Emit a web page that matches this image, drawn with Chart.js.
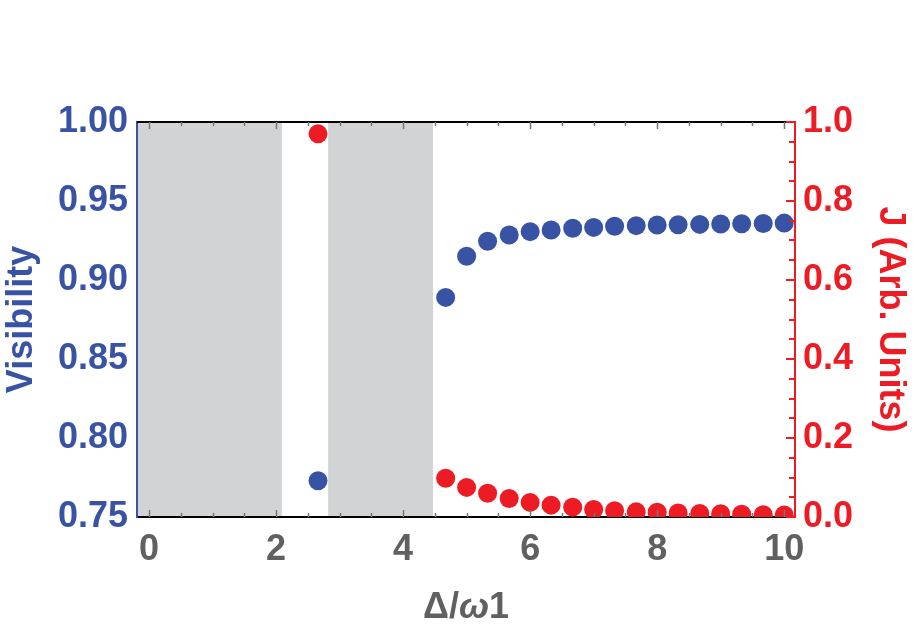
<!DOCTYPE html>
<html lang="en">
<head>
  <meta charset="UTF-8">
  <title>Visibility and J vs detuning</title>
  <script src="https://cdn.jsdelivr.net/npm/chart.js"></script>
  <style>
    body { margin: 0; background: #ffffff; }
    #wrap { width: 923px; height: 641px; }
  </style>
</head>
<body>

<div id="wrap">
  <canvas id="visChart" width="923" height="641"></canvas>
</div>

<script>
  // data
  const detuning = [2.66, 4.67, 5.0, 5.33, 5.67, 6.0, 6.33, 6.67, 7.0, 7.33, 7.67, 8.0, 8.33, 8.67, 9.0, 9.33, 9.67, 10.0];
  const visibility = [0.773, 0.889, 0.915, 0.9245, 0.9285, 0.9306, 0.9316, 0.9327, 0.9333, 0.934, 0.9344, 0.9348, 0.935, 0.9352, 0.9354, 0.9356, 0.9358, 0.936];
  const jValues = [0.970, 0.098, 0.075, 0.060, 0.047, 0.037, 0.030, 0.025, 0.019, 0.016, 0.013, 0.012, 0.010, 0.009, 0.008, 0.007, 0.006, 0.005];

  // shaded detuning ranges
  const bandStarts = [-0.19, 2.82];
  const bandEnds = [2.09, 4.47];

  // tick labels
  const xTicks = [0, 2, 4, 6, 8, 10];
  const visTicks = [0.75, 0.80, 0.85, 0.90, 0.95, 1.00];
  const jTicks = [0.0, 0.2, 0.4, 0.6, 0.8, 1.0];

  const BLUE = '#3953A4';
  const RED = '#ED1C24';
  const GREY_TXT = '#606060';
  const FONT = "'Liberation Sans', Arial, sans-serif";

  const bandPlugin = {
    id: 'bands',
    beforeDraw(chart) {
      const { ctx, chartArea, scales } = chart;
      ctx.save();
      ctx.fillStyle = '#D1D3D4';
      for (let i = 0; i < bandStarts.length; i++) {
        const x0 = Math.max(scales.x.getPixelForValue(bandStarts[i]), chartArea.left);
        const x1 = scales.x.getPixelForValue(bandEnds[i]);
        ctx.fillRect(x0, chartArea.top, x1 - x0, chartArea.bottom - chartArea.top);
      }
      ctx.restore();
    }
  };

  // top frame line, small inward ticks, and the x title with italic omega
  const framePlugin = {
    id: 'frame',
    afterDraw(chart) {
      const { ctx, chartArea, scales } = chart;
      const { left, right, top, bottom } = chartArea;
      ctx.save();

      ctx.strokeStyle = '#000';
      ctx.lineWidth = 2;
      ctx.beginPath();
      ctx.moveTo(left, top);
      ctx.lineTo(right, top);
      ctx.stroke();

      ctx.strokeStyle = '#777';
      ctx.lineWidth = 1.5;
      for (let v = 0; v <= 10; v += 0.5) {
        const px = Math.round(scales.x.getPixelForValue(v)) + 0.5;
        const len = (v % 2 === 0) ? 7 : 4;
        ctx.beginPath();
        ctx.moveTo(px, top);
        ctx.lineTo(px, top + len);
        ctx.moveTo(px, bottom);
        ctx.lineTo(px, bottom - len);
        ctx.stroke();
      }

      ctx.strokeStyle = RED;
      ctx.lineWidth = 2;
      for (let k = 0; k <= 20; k++) {
        const py = Math.round(scales.y1.getPixelForValue(k * 0.05));
        const len = (k % 4 === 0) ? 9 : 6;
        ctx.beginPath();
        ctx.moveTo(right, py);
        ctx.lineTo(right - len, py);
        ctx.stroke();
      }

      // x axis title
      const parts = [
        { t: 'Δ/', f: 'bold 36px ' + FONT },
        { t: 'ω', f: 'italic bold 36px ' + FONT },
        { t: '1', f: 'bold 36px ' + FONT }
      ];
      let total = 0;
      parts.forEach(p => { ctx.font = p.f; p.w = ctx.measureText(p.t).width; total += p.w; });
      let tx = (left + right) / 2 - total / 2;
      ctx.fillStyle = GREY_TXT;
      ctx.textBaseline = 'alphabetic';
      ctx.textAlign = 'left';
      parts.forEach(p => { ctx.font = p.f; ctx.fillText(p.t, tx, 618); tx += p.w; });

      ctx.restore();
    }
  };

  const ctx = document.getElementById('visChart').getContext('2d');
  const visChart = new Chart(ctx, {
    type: 'scatter',
    data: {
      datasets: [
        {
          label: 'Visibility',
          data: detuning.map((x, i) => ({ x: x, y: visibility[i] })),
          yAxisID: 'y',
          backgroundColor: BLUE,
          borderWidth: 0,
          pointRadius: 9.5,
          pointHoverRadius: 9.5,
          clip: 0
        },
        {
          label: 'J',
          data: detuning.map((x, i) => ({ x: x, y: jValues[i] })),
          yAxisID: 'y1',
          backgroundColor: RED,
          borderWidth: 0,
          pointRadius: 9.5,
          pointHoverRadius: 9.5,
          clip: 0
        }
      ]
    },
    options: {
      responsive: false,
      animation: false,
      layout: { padding: { top: 122, left: 0, right: 0, bottom: 0 } },
      plugins: {
        legend: { display: false },
        tooltip: { enabled: false }
      },
      scales: {
        x: {
          type: 'linear',
          position: 'bottom',
          min: -0.19,
          max: 10.17,
          afterBuildTicks: s => { s.ticks = xTicks.map(v => ({ value: v })); },
          afterFit: s => { s.height = 124; },
          grid: { display: false, drawTicks: false },
          border: { color: '#000', width: 2 },
          ticks: {
            padding: 11,
            color: GREY_TXT,
            font: { family: FONT, size: 36, weight: 'bold' },
            callback: v => String(v)
          }
        },
        y: {
          type: 'linear',
          position: 'left',
          min: 0.75,
          max: 1.0,
          afterBuildTicks: s => { s.ticks = visTicks.map(v => ({ value: v })); },
          afterFit: s => { s.width = 137; },
          grid: { display: false, drawTicks: false },
          border: { color: BLUE, width: 2 },
          ticks: {
            padding: 9,
            color: BLUE,
            font: { family: FONT, size: 36, weight: 'bold' },
            callback: v => Number(v).toFixed(2)
          },
          title: {
            display: true,
            text: 'Visibility',
            color: BLUE,
            padding: { top: 0, bottom: 0 },
            font: { family: FONT, size: 36, weight: 'bold' }
          }
        },
        y1: {
          type: 'linear',
          position: 'right',
          min: 0,
          max: 1.0,
          afterBuildTicks: s => { s.ticks = jTicks.map(v => ({ value: v })); },
          afterFit: s => { s.width = 128; },
          grid: { display: false, drawTicks: false },
          border: { color: RED, width: 2 },
          ticks: {
            padding: 8,
            color: RED,
            font: { family: FONT, size: 36, weight: 'bold' },
            callback: v => Number(v).toFixed(1)
          },
          title: {
            display: true,
            text: 'J (Arb. Units)',
            color: RED,
            padding: { top: 11, bottom: 0 },
            font: { family: FONT, size: 36, weight: 'bold' }
          }
        }
      }
    },
    plugins: [bandPlugin, framePlugin]
  });
</script>

</body>
</html>
